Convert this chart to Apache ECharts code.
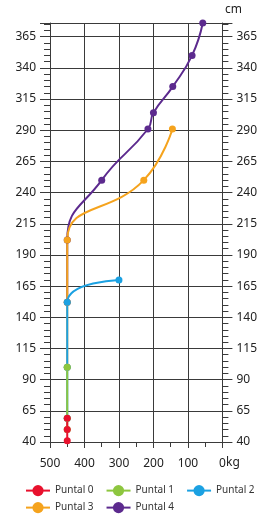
<!DOCTYPE html>
<html>
<head>
<meta charset="utf-8">
<style>
  html, body { margin: 0; padding: 0; background: #fff; }
  #chart { width: 260px; height: 516px; }
</style>
<script src="https://cdn.jsdelivr.net/npm/echarts@6/dist/echarts.min.js"></script>
</head>
<body>
<div id="chart"></div>
<script>
const seriesNames = ['Puntal 0', 'Puntal 1', 'Puntal 2', 'Puntal 3', 'Puntal 4'];
const seriesColors = ['#e8112d', '#8dc63f', '#1ba1e2', '#f5a31d', '#5c2a8e'];

// load (kg) and height (cm) of every point; each puntal starts on the one below it
const puntal0Kg = [450, 450, 450];
const puntal0Cm = [41, 50, 59];
const puntal1Kg = [450, 450, 450];
const puntal1Cm = [50, 59, 100];
const puntal2Kg = [450, 450, 450, 300];
const puntal2Cm = [59, 100, 152, 170];
const puntal3Kg = [450, 450, 450, 228, 145];
const puntal3Cm = [100, 152, 202, 250, 291];
const puntal4Kg = [450, 450, 350, 216, 200, 144, 88, 57];
const puntal4Cm = [152, 202, 250, 291, 304, 325, 350, 376];

const kgLists = [puntal0Kg, puntal1Kg, puntal2Kg, puntal3Kg, puntal4Kg];
const cmLists = [puntal0Cm, puntal1Cm, puntal2Cm, puntal3Cm, puntal4Cm];

const font = 'Noto Sans';
const gridColor = '#3a3a3a';

// fresh objects for each y axis, the two must not share nested options
function makeYAxis(position) {
    return {
        type: 'value',
        position: position,
        min: 40,
        max: 376,
        interval: 25,
        axisLine: { show: true, onZero: false, lineStyle: { color: gridColor, width: 1 } },
        axisTick: { show: true, length: 10, lineStyle: { color: gridColor } },
        minorTick: { show: true, splitNumber: 5, length: 6, lineStyle: { color: gridColor } },
        axisLabel: { margin: 14, fontSize: 12, fontFamily: font, color: '#222', showMaxLabel: false },
        splitLine: { show: position === 'left', lineStyle: { color: gridColor, width: 1 } }
    };
}

function makeLegend(names, top) {
    return {
        data: names,
        left: 25,
        top: top,
        width: 240,
        padding: 0,
        itemWidth: 24,
        itemHeight: 14,
        itemGap: 12,
        textStyle: { fontSize: 10, fontFamily: font, color: '#333' }
    };
}

// lower puntal drawn last so it sits on top of the next one
let series = [];
for (let i = seriesNames.length - 1; i >= 0; i--) {
    series.push({
        name: seriesNames[i],
        type: 'line',
        smooth: true,
        symbol: 'circle',
        symbolSize: 7,
        showSymbol: true,
        lineStyle: { width: 2, color: seriesColors[i] },
        itemStyle: { color: seriesColors[i] },
        data: kgLists[i].map((kg, j) => [kg, cmLists[i][j]])
    });
}

let chart = echarts.init(document.getElementById('chart'));
chart.setOption({
    animation: false,
    grid: { left: 50, right: 37, top: 23, bottom: 74 },
    title: [
        { text: 'cm', left: 225, top: 4, padding: 0, textStyle: { fontSize: 12, fontWeight: 'normal', fontFamily: font, color: '#222' } },
        { text: 'kg', left: 226, top: 457, padding: 0, textStyle: { fontSize: 12, fontWeight: 'normal', fontFamily: font, color: '#222' } }
    ],
    legend: [
        makeLegend(seriesNames.slice(0, 3), 485),
        makeLegend(seriesNames.slice(3), 502)
    ],
    xAxis: [
        {
            type: 'value',
            position: 'bottom',
            inverse: true,
            min: 0,
            max: 500,
            interval: 100,
            axisLine: { show: true, onZero: false, lineStyle: { color: gridColor } },
            axisTick: { show: true, length: 6, lineStyle: { color: gridColor } },
            minorTick: { show: true, splitNumber: 2, length: 5, lineStyle: { color: gridColor } },
            axisLabel: { margin: 16, fontSize: 12, fontFamily: font, color: '#222' },
            splitLine: { show: true, lineStyle: { color: gridColor, width: 1 } }
        },
        {
            // top border of the plot
            type: 'value',
            position: 'top',
            inverse: true,
            min: 0,
            max: 500,
            axisLine: { show: true, onZero: false, lineStyle: { color: gridColor } },
            axisTick: { show: false },
            axisLabel: { show: false },
            splitLine: { show: false }
        }
    ],
    yAxis: [makeYAxis('left'), makeYAxis('right')],
    series
});
</script>
</body>
</html>
